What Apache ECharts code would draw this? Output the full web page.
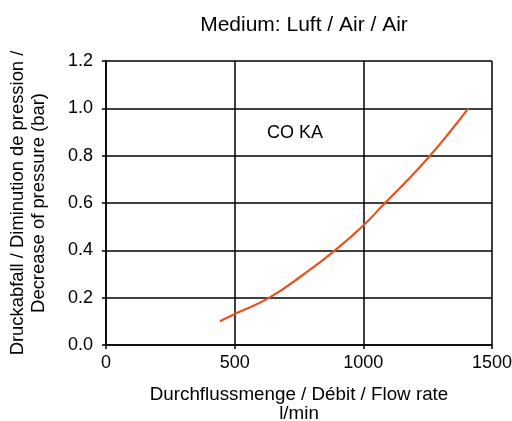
<!DOCTYPE html>
<html><head><meta charset="utf-8">
<script src="https://cdn.jsdelivr.net/npm/echarts@6/dist/echarts.min.js"></script>
<style>html,body{margin:0;padding:0;background:#fff}#c{width:512px;height:421px}</style>
</head><body><div id="c"></div>
<script>
const flowRate = [443, 500, 635, 770, 890, 1000, 1084, 1175, 1259, 1336, 1408];
const pressureDrop = [0.1, 0.131, 0.2, 0.3, 0.4, 0.505, 0.6, 0.7, 0.8, 0.9, 1.0];
const titleText = 'Medium: Luft / Air / Air';
const seriesLabel = 'CO KA';
const xName = 'Durchflussmenge / Débit / Flow rate\nl/min';
const yName = 'Druckabfall / Diminution de pression /\nDecrease of pressure (bar)';

const chart = echarts.init(document.getElementById('c'), null, {renderer: 'canvas'});
const font = 'Liberation Sans, Arial, sans-serif';
chart.setOption({
  animation: false,
  backgroundColor: '#fff',
  title: {text: titleText, left: 299, top: 10, textAlign: 'center',
    textStyle: {fontFamily: font, fontSize: 21, fontWeight: 'normal', color: '#000'}},
  grid: {left: 106, right: 20, top: 61, bottom: 76, containLabel: false, outerBoundsMode: 'none'},
  xAxis: {type: 'value', min: 0, max: 1500, interval: 500,
    name: xName, nameLocation: 'middle', nameGap: 40,
    nameTextStyle: {fontFamily: font, fontSize: 18.8, color: '#000', lineHeight: 19},
    axisLine: {lineStyle: {color: '#000', width: 1.5}},
    axisTick: {show: true, length: 4, lineStyle: {color: '#000', width: 1.5}},
    axisLabel: {fontFamily: font, fontSize: 18, color: '#000', margin: 9,
      formatter: v => String(v)},
    splitLine: {show: true, lineStyle: {color: '#000', width: 1.5}}},
  yAxis: {type: 'value', min: 0, max: 1.2, interval: 0.2,
    name: yName, nameLocation: 'middle', nameRotate: 90, nameGap: 57,
    nameTextStyle: {fontFamily: font, fontSize: 18.4, color: '#000', lineHeight: 21},
    axisLine: {show: true, lineStyle: {color: '#000', width: 1.5}},
    axisTick: {show: true, length: 4, lineStyle: {color: '#000', width: 1.5}},
    axisLabel: {fontFamily: font, fontSize: 18, color: '#000', margin: 13,
      formatter: v => v.toFixed(1)},
    splitLine: {show: true, lineStyle: {color: '#000', width: 1.5}}},
  graphic: [{type: 'text', x: 295, y: 133,
    style: {text: seriesLabel, font: '18px ' + font, fill: '#000',
      textAlign: 'center', textVerticalAlign: 'middle'}}],
  series: [{type: 'line', smooth: true, showSymbol: false,
    data: flowRate.map((x, i) => [x, pressureDrop[i]]),
    lineStyle: {color: '#E8501E', width: 2.2}}]
});
</script></body></html>
